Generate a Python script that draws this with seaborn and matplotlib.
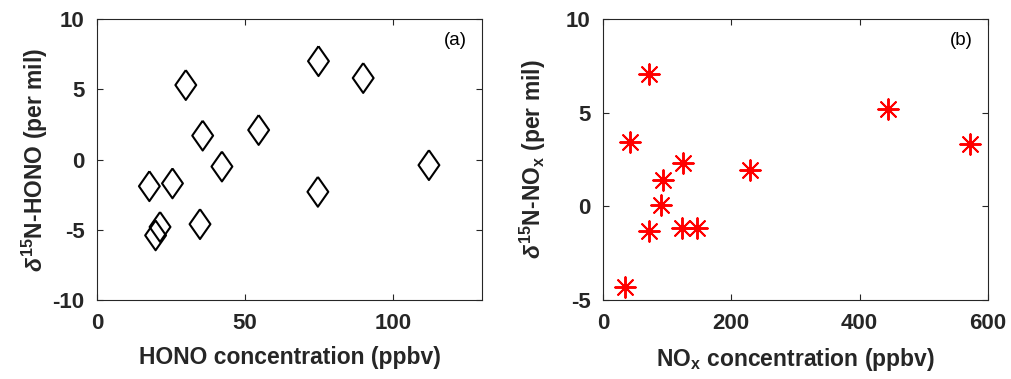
import numpy as np
import pandas as pd
import seaborn as sns
import matplotlib.pyplot as plt

# (a) HONO concentration vs d15N-HONO
hono_conc = [17.7, 25.5, 30.0, 35.7, 42.2, 54.6, 74.8, 89.9, 112.1, 74.6, 34.8, 21.3, 19.8]
d15n_hono = [-1.9, -1.7, 5.3, 1.7, -0.5, 2.1, 7.0, 5.8, -0.4, -2.3, -4.6, -4.8, -5.4]

# (b) NOx concentration vs d15N-NOx
nox_conc = [71.9, 41.7, 124.0, 93.8, 90.1, 71.9, 122.9, 145.8, 229.0, 444.0, 572.0, 34.4]
d15n_nox = [7.06, 3.44, 2.30, 1.41, 0.09, -1.31, -1.13, -1.13, 1.95, 5.21, 3.33, -4.32]

sns.set_style("ticks")
plt.rcParams["font.family"] = ["Liberation Sans", "DejaVu Sans"]
plt.rcParams["font.weight"] = "bold"
plt.rcParams["axes.unicode_minus"] = False
plt.rcParams["mathtext.fontset"] = "custom"
plt.rcParams["mathtext.rm"] = "Liberation Sans:bold"
plt.rcParams["mathtext.it"] = "Liberation Sans:italic:bold"
plt.rcParams["mathtext.bf"] = "Liberation Sans:bold"

axcol = "#262626"
fig = plt.figure(figsize=(10.11, 3.79), dpi=100)
ax1 = fig.add_axes([0.0959, 0.2084, 0.3808, 0.7414])
ax2 = fig.add_axes([0.5964, 0.2084, 0.3808, 0.7414])

df_a = pd.DataFrame({"conc": hono_conc, "d15n": d15n_hono})
df_b = pd.DataFrame({"conc": nox_conc, "d15n": d15n_nox})

diamond = [(0, 1), (0.7, 0), (0, -1), (-0.7, 0), (0, 1)]
sns.scatterplot(data=df_a, x="conc", y="d15n", ax=ax1, marker=diamond,
                s=460, color="none", edgecolor="black", linewidth=1.5)
sns.scatterplot(data=df_b, x="conc", y="d15n", ax=ax2, marker=(8, 2, 0),
                s=220, color="red", linewidth=1.4)

ax1.set_xlim(0, 130)
ax1.set_ylim(-10, 10)
ax1.set_xticks([0, 50, 100])
ax1.set_yticks([-10, -5, 0, 5, 10])
ax2.set_xlim(0, 600)
ax2.set_ylim(-5, 10)
ax2.set_xticks([0, 200, 400, 600])
ax2.set_yticks([-5, 0, 5, 10])

ax1.set_xlabel("HONO concentration (ppbv)", fontsize=16.5, fontweight="bold", labelpad=9)
ax1.set_ylabel(r"$\delta^{15}$N-HONO (per mil)", fontsize=16.5, fontweight="bold", labelpad=2)
ax2.set_xlabel(r"NO$_{\mathrm{x}}$ concentration (ppbv)", fontsize=16.5, fontweight="bold", labelpad=9)
ax2.set_ylabel(r"$\delta^{15}$N-NO$_{\mathrm{x}}$ (per mil)", fontsize=16.5, fontweight="bold", labelpad=13)

for ax, tag in [(ax1, "(a)"), (ax2, "(b)")]:
    ax.tick_params(direction="in", top=True, right=True, length=4, width=0.8,
                   color=axcol, labelsize=16, pad=9, labelcolor=axcol)
    for lab in ax.get_xticklabels() + ax.get_yticklabels():
        lab.set_fontweight("bold")
    for sp in ax.spines.values():
        sp.set_visible(True)
        sp.set_color(axcol)
        sp.set_linewidth(0.8)
    ax.xaxis.label.set_color(axcol)
    ax.yaxis.label.set_color(axcol)
    ax.text(0.932, 0.925, tag, transform=ax.transAxes, ha="center", va="center",
            fontsize=13.5, fontweight="normal", color="black")

fig.savefig("out.png", dpi=100)
